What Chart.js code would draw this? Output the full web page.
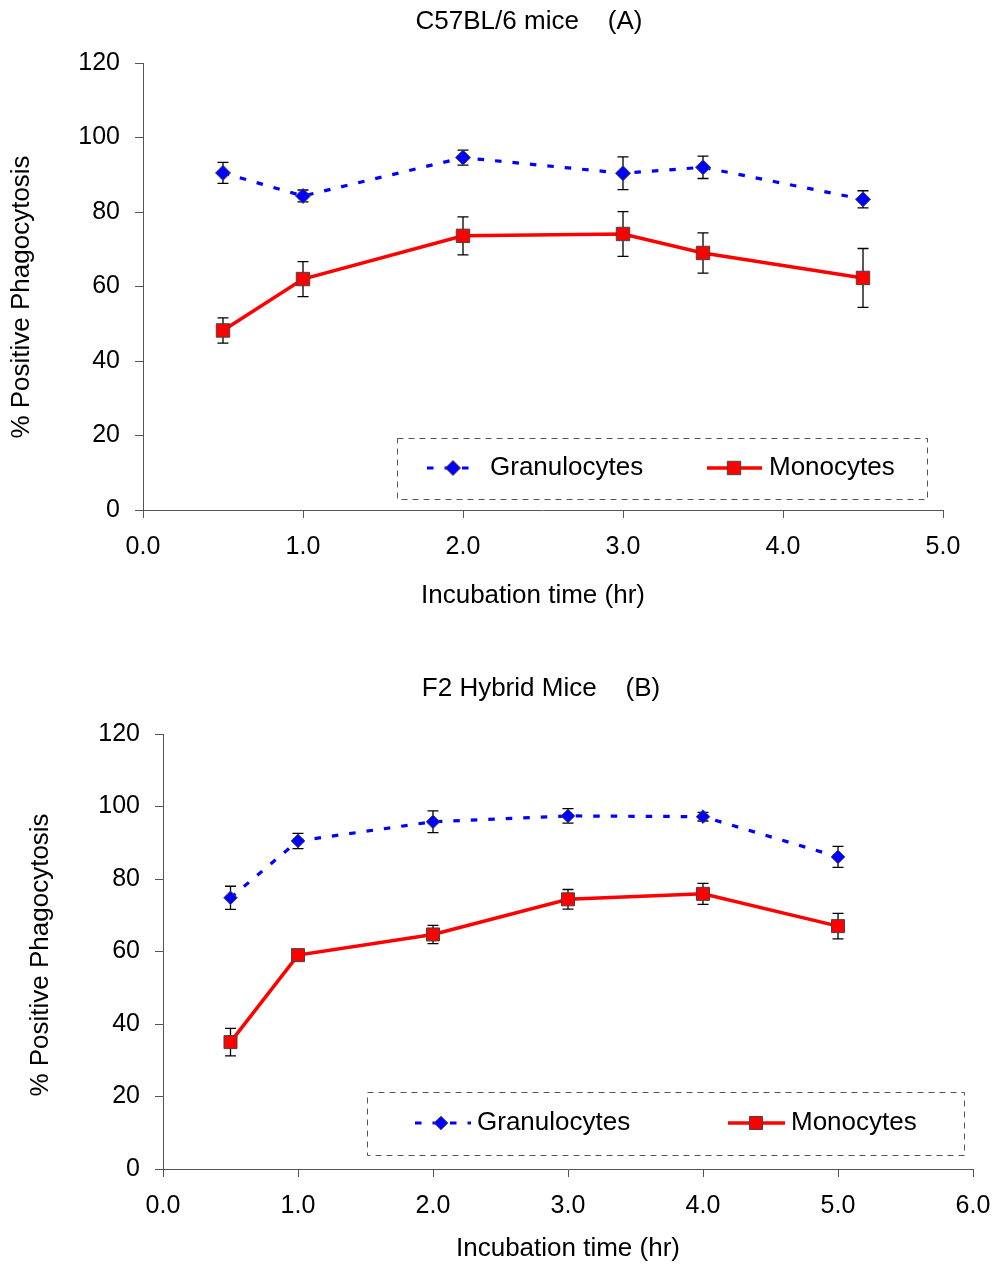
<!DOCTYPE html>
<html><head><meta charset="utf-8">
<script src="https://cdn.jsdelivr.net/npm/chart.js@4.4.1/dist/chart.umd.min.js"></script>
<style>html,body{margin:0;padding:0;background:#fff;} canvas{display:block;}</style>
</head><body>
<canvas id="cA" width="996" height="640"></canvas>
<canvas id="cB" width="996" height="624"></canvas>
<script>
// ---- Data ----
const seriesNames = ['Granulocytes', 'Monocytes'];
const timesA = [0.5, 1.0, 2.0, 3.0, 3.5, 4.5];
const granA = [90.5, 84.3, 94.6, 90.4, 92.0, 83.4];
const granAErr = [2.8, 1.6, 2.0, 4.4, 3.0, 2.3];
const monoA = [48.2, 62.0, 73.6, 74.1, 69.0, 62.3];
const monoAErr = [3.4, 4.7, 5.1, 6.0, 5.4, 7.9];

const timesB = [0.5, 1.0, 2.0, 3.0, 4.0, 5.0];
const granB = [74.8, 90.5, 95.8, 97.4, 97.2, 86.1];
const granBErr = [3.2, 2.1, 3.0, 2.0, 1.2, 2.9];
const monoB = [35.0, 59.0, 64.7, 74.4, 75.9, 67.0];
const monoBErr = [3.8, 1.5, 2.5, 2.7, 2.9, 3.5];

const titleA = 'C57BL/6 mice    (A)';
const titleB = 'F2 Hybrid Mice    (B)';
const xTitle = 'Incubation time (hr)';
const yTitle = '% Positive Phagocytosis';

const FONT = "'Liberation Sans', Arial, Helvetica, sans-serif";
const AXIS = '#555555';

function pts(xs, ys) { return xs.map((x, i) => ({x: x, y: ys[i]})); }

function makeDatasets(times, g, gErr, m, mErr, dRad, sRad) {
  return [
    { label: seriesNames[0], data: pts(times, g), errors: gErr,
      borderColor: '#0000FF', backgroundColor: '#0000FF', borderWidth: 3.2,
      borderDash: [6.5, 11], borderCapStyle: 'butt', tension: 0,
      pointStyle: 'rectRot', pointRadius: dRad, pointBackgroundColor: '#0000FF',
      pointBorderColor: '#444444', pointBorderWidth: 1 },
    { label: seriesNames[1], data: pts(times, m), errors: mErr,
      borderColor: '#FF0000', backgroundColor: '#FF0000', borderWidth: 3.5,
      tension: 0, pointStyle: 'rect', pointRadius: sRad, pointBackgroundColor: '#FF0000',
      pointBorderColor: '#444444', pointBorderWidth: 1 }
  ];
}

const errorBarPlugin = {
  id: 'errorBars',
  beforeDatasetsDraw(chart) {
    const ctx = chart.ctx, xs = chart.scales.x, ys = chart.scales.y;
    chart.data.datasets.forEach(ds => {
      if (!ds.errors) return;
      ctx.save();
      ctx.strokeStyle = '#000';
      ctx.lineWidth = 1.3;
      ds.data.forEach((p, j) => {
        const x = xs.getPixelForValue(p.x);
        const yt = ys.getPixelForValue(p.y + ds.errors[j]);
        const yb = ys.getPixelForValue(p.y - ds.errors[j]);
        ctx.beginPath();
        ctx.moveTo(x, yt); ctx.lineTo(x, yb);
        ctx.moveTo(x - 5.5, yt); ctx.lineTo(x + 5.5, yt);
        ctx.moveTo(x - 5.5, yb); ctx.lineTo(x + 5.5, yb);
        ctx.stroke();
      });
      ctx.restore();
    });
  }
};

function drawMarker(ctx, ds, x, y) {
  ctx.save();
  ctx.fillStyle = ds.pointBackgroundColor;
  ctx.strokeStyle = ds.pointBorderColor;
  ctx.lineWidth = ds.pointBorderWidth;
  ctx.beginPath();
  const r = ds.pointRadius;
  if (ds.pointStyle === 'rectRot') {
    ctx.moveTo(x, y - r); ctx.lineTo(x + r, y); ctx.lineTo(x, y + r); ctx.lineTo(x - r, y); ctx.closePath();
  } else {
    const h = r * Math.SQRT1_2;
    ctx.rect(x - h, y - h, 2 * h, 2 * h);
  }
  ctx.fill(); ctx.stroke();
  ctx.restore();
}

const decorPlugin = {
  id: 'decor',
  afterDraw(chart, args, o) {
    const ctx = chart.ctx;
    ctx.save();
    ctx.fillStyle = '#000';
    ctx.font = '26px ' + FONT;
    ctx.textBaseline = 'middle';
    ctx.textAlign = 'center';
    ctx.fillText(o.title.text, o.title.x, o.title.y);
    ctx.fillText(o.xTitle.text, o.xTitle.x, o.xTitle.y);
    ctx.save();
    ctx.translate(o.yTitle.x, o.yTitle.y);
    ctx.rotate(-Math.PI / 2);
    ctx.fillText(o.yTitle.text, 0, 0);
    ctx.restore();
    // legend
    const L = o.legend;
    ctx.save();
    ctx.strokeStyle = '#555';
    ctx.lineWidth = 1;
    ctx.setLineDash([6, 5]);
    ctx.strokeRect(L.box[0] + 0.5, L.box[1] + 0.5, L.box[2] - L.box[0], L.box[3] - L.box[1]);
    ctx.restore();
    chart.data.datasets.forEach((ds, i) => {
      const it = L.items[i];
      ctx.save();
      ctx.strokeStyle = ds.borderColor;
      ctx.lineWidth = ds.borderWidth;
      if (ds.borderDash) ctx.setLineDash(ds.borderDash);
      ctx.beginPath(); ctx.moveTo(it.line[0], L.y); ctx.lineTo(it.line[1], L.y); ctx.stroke();
      ctx.restore();
      drawMarker(ctx, ds, it.marker, L.y);
      ctx.textAlign = 'left';
      ctx.fillStyle = '#000';
      ctx.fillText(ds.label, it.text, L.y);
    });
    ctx.restore();
  }
};

function axisOpts(min, max, step, pad, fmt, fitFn) {
  return {
    type: 'linear', min: min, max: max,
    afterFit: fitFn,
    ticks: { stepSize: step, callback: fmt, color: '#000', font: { family: FONT, size: 25 },
             padding: pad, maxRotation: 0, autoSkip: false },
    grid: { drawOnChartArea: false, tickLength: 8, tickColor: AXIS, lineWidth: 1 },
    border: { color: AXIS, width: 1 }
  };
}

function makeChart(id, cfg) {
  return new Chart(document.getElementById(id), {
    type: 'line',
    data: { datasets: cfg.datasets },
    options: {
      responsive: false, animation: false, devicePixelRatio: 1,
      layout: { padding: cfg.padding },
      plugins: { legend: { display: false }, tooltip: { enabled: false }, decor: cfg.decor },
      scales: {
        x: axisOpts(0, cfg.xMax, 1, 14, v => Number(v).toFixed(1),
                    s => { s.height = cfg.xHeight; s.paddingLeft = 0; s.paddingRight = 0; }),
        y: axisOpts(0, 120, 20, 15, v => String(v),
                    s => { s.width = cfg.yWidth; s.paddingTop = 0; s.paddingBottom = 0; })
      }
    },
    plugins: [errorBarPlugin, decorPlugin]
  });
}

makeChart('cA', {
  datasets: makeDatasets(timesA, granA, granAErr, monoA, monoAErr, 7.5, 9.5),
  padding: { top: 63, right: 53, left: 0, bottom: 0 },
  xMax: 5, xHeight: 130, yWidth: 143,
  decor: {
    title: { text: titleA, x: 529, y: 22 },
    xTitle: { text: xTitle, x: 533, y: 596 },
    yTitle: { text: yTitle, x: 22, y: 297 },
    legend: { box: [397, 438, 927, 499], y: 468,
      items: [ { line: [427, 479], marker: 453, text: 490 },
               { line: [707, 762], marker: 734, text: 769 } ] }
  }
});

makeChart('cB', {
  datasets: makeDatasets(timesB, granB, granBErr, monoB, monoBErr, 6.8, 9.2),
  padding: { top: 94, right: 23, left: 0, bottom: 0 },
  xMax: 6, xHeight: 95, yWidth: 163,
  decor: {
    title: { text: titleB, x: 541, y: 49 },
    xTitle: { text: xTitle, x: 568, y: 609 },
    yTitle: { text: yTitle, x: 41, y: 315 },
    legend: { box: [367, 452, 964, 515], y: 483,
      items: [ { line: [415, 471], marker: 441, text: 477 },
               { line: [728, 785], marker: 756, text: 791 } ] }
  }
});
</script>
</body></html>
